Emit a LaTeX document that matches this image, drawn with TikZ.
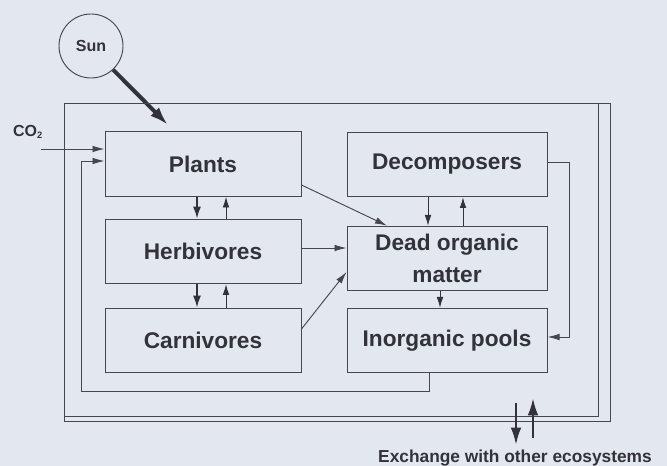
\documentclass[tikz,border=0pt]{standalone}
\usepackage{fontspec}
\setmainfont{Liberation Sans}
\usetikzlibrary{arrows.meta}
\definecolor{bg}{RGB}{227,231,240}
\definecolor{ink}{RGB}{50,50,58}
\definecolor{lin}{RGB}{70,70,80}
\begin{document}
\begin{tikzpicture}[x=0.75pt,y=-0.75pt,
  box/.style={draw=lin, line width=0.75pt, minimum width=147pt, minimum height=48.5pt, inner sep=0pt,
    font=\bfseries\fontsize{17}{24}\selectfont, text=ink, align=center},
  rbox/.style={box, minimum width=150pt},
  link/.style={draw=lin, line width=0.7pt},
  arr/.style={link, -{Latex[length=9pt,width=5pt]}},
  darr/.style={draw=ink, line width=1.3pt, -{Latex[length=9pt,width=6pt]}},
  uarr/.style={draw=ink, line width=0.7pt, -{Latex[length=8pt,width=5pt]}},
  bigarr/.style={draw=ink, line width=1.9pt, -{Latex[length=13pt,width=8pt]}},
  sunarr/.style={draw=ink, line width=3pt, -{Latex[length=14pt,width=9pt]}},
  frame/.style={draw=lin, line width=0.7pt},
  lbl/.style={text=ink, font=\bfseries\fontsize{12}{14}\selectfont, inner sep=0pt}
]
\fill[bg] (0,0) rectangle (667,466);
\useasboundingbox (0,0) rectangle (667,466);

% boxes
\node[box] (plants) at (203,164) {Plants};
\node[box] (herb) at (203,251.5) {Herbivores};
\node[box] (carn) at (203,340.5) {Carnivores};
\node[rbox] (decomp) at (447,164.5) {Decomposers};
\node[rbox] (dead) at (447,258.5) {Dead organic\\matter};
\node[rbox] (inorg) at (447,340.5) {Inorganic pools};

% sun
\node[circle, draw=lin, line width=0.7pt, minimum size=48pt, inner sep=0pt, lbl] (sun) at (91,46) {Sun};
\coordinate (sunend) at (168,125);
\draw[sunarr] (sun.-47) -- (sunend);

% CO2
\node[lbl] (co2) at (28,132) {CO\textsubscript{\fontsize{7}{8}\selectfont 2}};
\coordinate (co2s) at (41,149);
\draw[arr] (co2s) -- (plants.west |- co2s);

% outer frame
\coordinate (fa) at (64,103);
\coordinate (fb) at (610,421);
\coordinate (fc) at (598,103);
\coordinate (fd) at (598,416);
\draw[frame] (fa) rectangle (fb);
\draw[frame] (fc) -- (fd) -- (fa |- fd);

% inner loop inorganic -> plants
\coordinate (pinx) at (429,0);
\coordinate (loopx) at (81,0);
\coordinate (loopy) at (0,391);
\coordinate (ploopy) at (0,161);
\draw[arr] (inorg.south -| pinx) -- (pinx |- loopy) -- (loopx |- loopy) -- (loopx |- ploopy) -- (plants.west |- ploopy);

% vertical trophic arrows
\coordinate (xd) at (197,0);
\coordinate (xu) at (226,0);
\draw[darr] (plants.south -| xd) -- (herb.north -| xd);
\draw[uarr] (herb.north -| xu) -- (plants.south -| xu);
\draw[darr] (herb.south -| xd) -- (carn.north -| xd);
\draw[uarr] (carn.north -| xu) -- (herb.south -| xu);

% decomposers <-> dead
\coordinate (rxd) at (428,0);
\coordinate (rxu) at (463,0);
\draw[uarr] (decomp.south -| rxd) -- (dead.north -| rxd);
\draw[uarr] (dead.north -| rxu) -- (decomp.south -| rxu);
\coordinate (rxi) at (440,0);
\draw[uarr] (dead.south -| rxi) -- (inorg.north -| rxi);

% decomposers -> inorganic
\coordinate (dx) at (569,0);
\coordinate (dy1) at (0,162);
\coordinate (dy2) at (0,337);
\draw[arr] (decomp.east |- dy1) -- (dx |- dy1) -- (dx |- dy2) -- (inorg.east |- dy2);

% to dead organic matter
\coordinate (pdy) at (0,185);
\coordinate (pdx) at (387,0);
\draw[arr] (plants.east |- pdy) -- (dead.north -| pdx);
\coordinate (hy) at (0,248);
\draw[arr] (herb.east |- hy) -- (dead.west |- hy);
\coordinate (cy) at (0,329);
\coordinate (cdy) at (0,272);
\draw[arr] (carn.east |- cy) -- (dead.west |- cdy);

% exchange
\node[lbl, font=\bfseries\fontsize{13}{15}\selectfont] (exch) at (515,458) {Exchange with other ecosystems};
\coordinate (exd1) at (516,403);
\coordinate (exd2) at (516,445);
\coordinate (exu1) at (533,438);
\coordinate (exu2) at (533,398);
\draw[bigarr] (exd1) -- (exd2);
\draw[bigarr] (exu1) -- (exu2);
\end{tikzpicture}
\end{document}
